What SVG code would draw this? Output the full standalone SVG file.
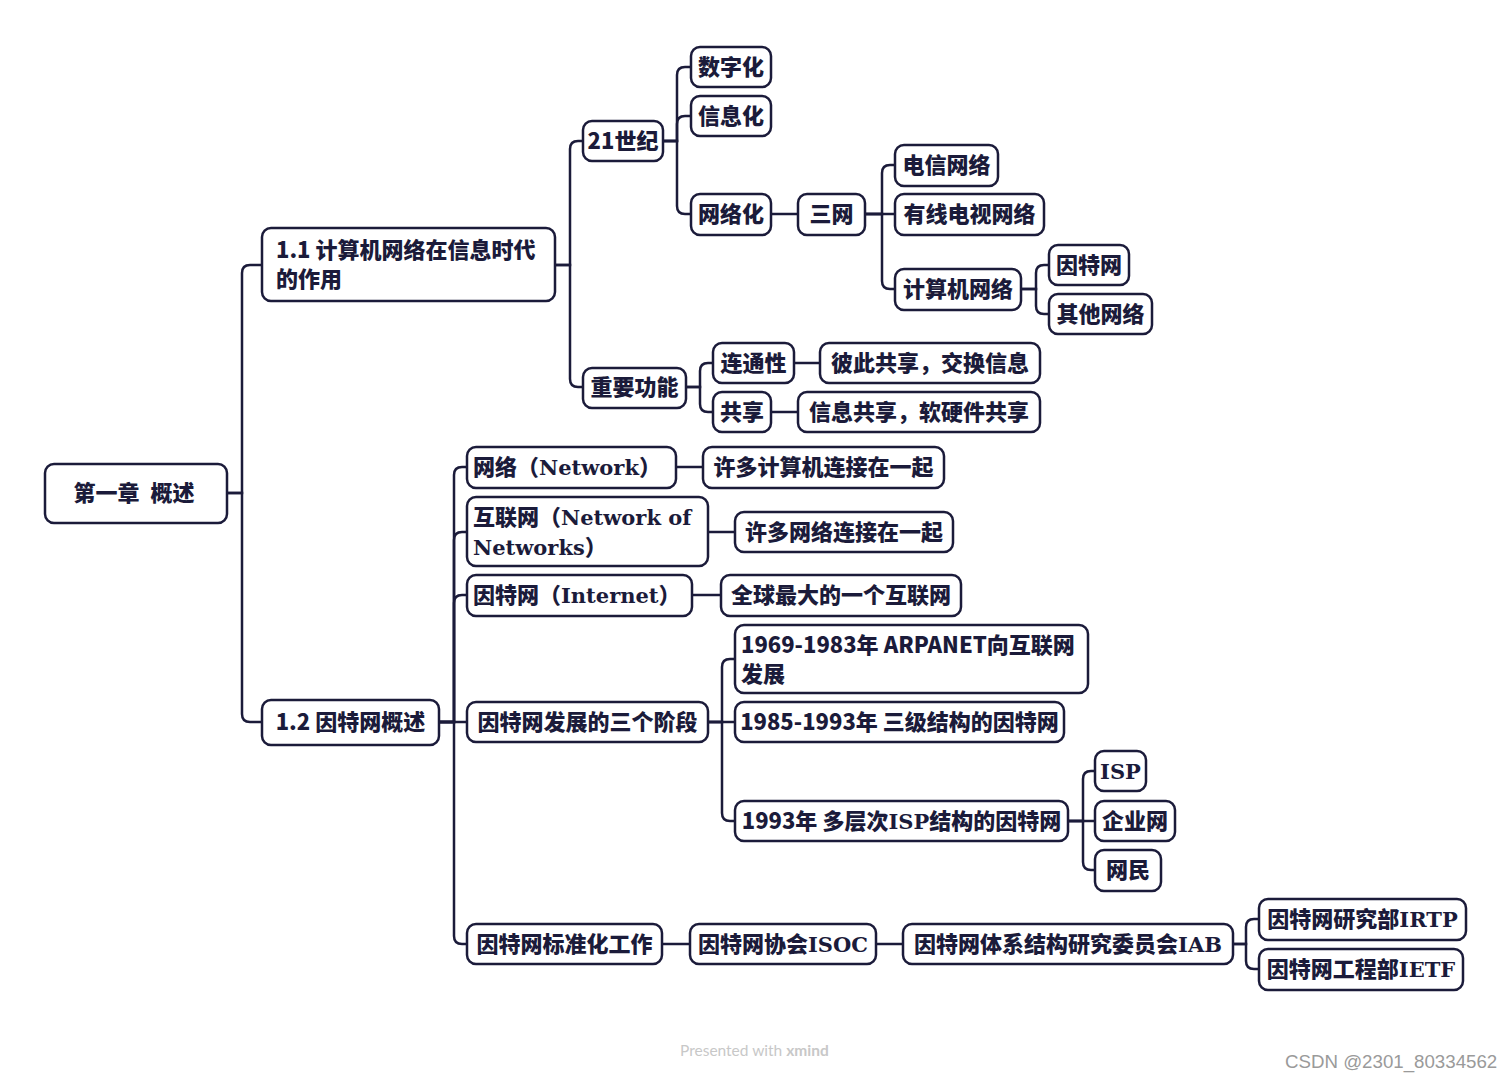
<svg xmlns="http://www.w3.org/2000/svg" width="1512" height="1080" viewBox="0 0 1512 1080">
<style>
.b{fill:#fff;stroke:#1b1b3a;stroke-width:2.5}
.t{font-family:"Noto Sans CJK SC","Liberation Sans",sans-serif;font-weight:900;font-size:22px;fill:#1b1b3a}
.m{text-anchor:middle}
.s{font-family:"DejaVu Serif","Liberation Serif",serif;font-weight:700;font-size:21px}
.c{fill:none;stroke:#1b1b3a;stroke-width:2.5}
</style>
<rect width="1512" height="1080" fill="#fff"/>
<g id="connectors" class="c">
<path d="M227,493 H242 V273 Q242,265 250,265 H262"/>
<path d="M227,493 H242 V714 Q242,722 250,722 H262"/>
<path d="M555,265 H570 V149 Q570,141 578,141 H583"/>
<path d="M555,265 H570 V379 Q570,387 578,387 H583"/>
<path d="M663,141 H677 V75 Q677,67 685,67 H691"/>
<path d="M663,141 H677 V124 Q677,116 685,116 H691"/>
<path d="M663,141 H677 V206 Q677,214 685,214 H691"/>
<path d="M771,214 H798"/>
<path d="M865,214 H882 V173 Q882,165 890,165 H895"/>
<path d="M865,214 H895"/>
<path d="M865,214 H882 V281 Q882,289 890,289 H895"/>
<path d="M1021,289 H1036 V273 Q1036,265 1044,265 H1049"/>
<path d="M1021,289 H1036 V306 Q1036,314 1044,314 H1049"/>
<path d="M686,387 H700 V371 Q700,363 708,363 H713"/>
<path d="M686,387 H700 V404 Q700,412 708,412 H713"/>
<path d="M794,363 H820"/>
<path d="M771,412 H798"/>
<path d="M439,722 H454 V475 Q454,467 462,467 H467"/>
<path d="M439,722 H454 V540 Q454,532 462,532 H467"/>
<path d="M439,722 H454 V603 Q454,595 462,595 H467"/>
<path d="M439,722 H467"/>
<path d="M439,722 H454 V936 Q454,944 462,944 H467"/>
<path d="M676,467 H703"/>
<path d="M708,532 H735"/>
<path d="M692,595 H721"/>
<path d="M708,722 H722 V667 Q722,659 730,659 H735"/>
<path d="M708,722 H735"/>
<path d="M708,722 H722 V813 Q722,821 730,821 H735"/>
<path d="M1068,821 H1083 V779 Q1083,771 1091,771 H1095"/>
<path d="M1068,821 H1095"/>
<path d="M1068,821 H1083 V862 Q1083,870 1091,870 H1095"/>
<path d="M662,944 H690"/>
<path d="M876,944 H903"/>
<path d="M1233,944 H1246 V927 Q1246,919 1254,919 H1259"/>
<path d="M1233,944 H1246 V961 Q1246,969 1254,969 H1259"/>
</g>
<g id="root"><rect class="b" x="45" y="464" width="182" height="59" rx="9"/><text class="t m" x="134" y="501" style="font-size:22px;word-spacing:6px">第一章 概述</text></g>
<g id="n11"><rect class="b" x="262" y="228" width="293" height="73" rx="9"/><text class="t" x="276" y="258">1.1 计算机网络在信息时代</text><text class="t" x="276" y="287">的作用</text></g>
<g id="n12"><rect class="b" x="262" y="700" width="177" height="45" rx="9"/><text class="t m" x="350.5" y="730">1.2 因特网概述</text></g>
<g id="n21c"><rect class="b" x="583" y="121" width="80" height="40" rx="9"/><text class="t m" x="623" y="149">21世纪</text></g>
<g id="nzy"><rect class="b" x="583" y="368" width="103" height="40" rx="9"/><text class="t m" x="634.5" y="395">重要功能</text></g>
<g id="nszh"><rect class="b" x="691" y="47" width="80" height="40" rx="9"/><text class="t m" x="731" y="75">数字化</text></g>
<g id="nxxh"><rect class="b" x="691" y="96" width="80" height="40" rx="9"/><text class="t m" x="731" y="124">信息化</text></g>
<g id="nwlh"><rect class="b" x="691" y="194" width="80" height="41" rx="9"/><text class="t m" x="731" y="222">网络化</text></g>
<g id="nsw"><rect class="b" x="798" y="194" width="67" height="41" rx="9"/><text class="t m" x="831.5" y="222">三网</text></g>
<g id="ndx"><rect class="b" x="895" y="145" width="103" height="41" rx="9"/><text class="t m" x="946.5" y="173">电信网络</text></g>
<g id="nyx"><rect class="b" x="895" y="194" width="149" height="41" rx="9"/><text class="t m" x="969.5" y="222">有线电视网络</text></g>
<g id="njsj"><rect class="b" x="895" y="269" width="126" height="41" rx="9"/><text class="t m" x="958" y="297">计算机网络</text></g>
<g id="nytw"><rect class="b" x="1049" y="245" width="80" height="40" rx="9"/><text class="t m" x="1089" y="273">因特网</text></g>
<g id="nqt"><rect class="b" x="1049" y="294" width="103" height="40" rx="9"/><text class="t m" x="1100.5" y="322">其他网络</text></g>
<g id="nlt"><rect class="b" x="713" y="343" width="81" height="40" rx="9"/><text class="t m" x="753.5" y="371">连通性</text></g>
<g id="ngx"><rect class="b" x="713" y="392" width="58" height="40" rx="9"/><text class="t m" x="742" y="420">共享</text></g>
<g id="nbc"><rect class="b" x="820" y="343" width="220" height="40" rx="9"/><text class="t m" x="930" y="371">彼此共享，交换信息</text></g>
<g id="nxxgx"><rect class="b" x="798" y="392" width="242" height="40" rx="9"/><text class="t m" x="919" y="420">信息共享，软硬件共享</text></g>
<g id="nnet"><rect class="b" x="467" y="447" width="209" height="41" rx="9"/><text class="t" x="473" y="475">网络（<tspan class="s">Network</tspan>）</text></g>
<g id="nnetd"><rect class="b" x="703" y="447" width="241" height="41" rx="9"/><text class="t m" x="823.5" y="475">许多计算机连接在一起</text></g>
<g id="nhlw"><rect class="b" x="467" y="497" width="241" height="69" rx="9"/><text class="t" x="473" y="525">互联网（<tspan class="s">Network of</tspan></text><text class="t" x="473" y="555"><tspan class="s">Networks</tspan>）</text></g>
<g id="nhlwd"><rect class="b" x="735" y="512" width="218" height="40" rx="9"/><text class="t m" x="844" y="540">许多网络连接在一起</text></g>
<g id="ninet"><rect class="b" x="467" y="575" width="225" height="41" rx="9"/><text class="t" x="473" y="603">因特网（<tspan class="s">Internet</tspan>）</text></g>
<g id="ninetd"><rect class="b" x="721" y="575" width="240" height="41" rx="9"/><text class="t m" x="841" y="603">全球最大的一个互联网</text></g>
<g id="n3jd"><rect class="b" x="467" y="702" width="241" height="40" rx="9"/><text class="t m" x="587.5" y="730">因特网发展的三个阶段</text></g>
<g id="n1969"><rect class="b" x="735" y="625" width="353" height="68" rx="9"/><text class="t" x="741" y="653">1969-1983年 ARPANET向互联网</text><text class="t" x="741" y="682">发展</text></g>
<g id="n1985"><rect class="b" x="735" y="702" width="329" height="40" rx="9"/><text class="t m" x="899.5" y="730">1985-1993年 三级结构的因特网</text></g>
<g id="n1993"><rect class="b" x="735" y="801" width="333" height="40" rx="9"/><text class="t m" x="901.5" y="829">1993年 多层次<tspan class="s">ISP</tspan>结构的因特网</text></g>
<g id="nisp"><rect class="b" x="1095" y="751" width="51" height="40" rx="9"/><text class="t m s" x="1120.5" y="779">ISP</text></g>
<g id="nqyw"><rect class="b" x="1095" y="801" width="80" height="40" rx="9"/><text class="t m" x="1135" y="829">企业网</text></g>
<g id="nwm"><rect class="b" x="1095" y="850" width="66" height="41" rx="9"/><text class="t m" x="1128" y="878">网民</text></g>
<g id="nbzh"><rect class="b" x="467" y="924" width="195" height="40" rx="9"/><text class="t m" x="564.5" y="952">因特网标准化工作</text></g>
<g id="nisoc"><rect class="b" x="690" y="924" width="186" height="40" rx="9"/><text class="t m" x="783" y="952">因特网协会<tspan class="s">ISOC</tspan></text></g>
<g id="niab"><rect class="b" x="903" y="924" width="330" height="40" rx="9"/><text class="t m" x="1068" y="952">因特网体系结构研究委员会<tspan class="s">IAB</tspan></text></g>
<g id="nirtp"><rect class="b" x="1259" y="899" width="207" height="41" rx="9"/><text class="t m" x="1362.5" y="927">因特网研究部<tspan class="s">IRTP</tspan></text></g>
<g id="nietf"><rect class="b" x="1259" y="949" width="204" height="41" rx="9"/><text class="t m" x="1361" y="977">因特网工程部<tspan class="s">IETF</tspan></text></g>
<text x="680" y="1056" style="font-family:Lato,'Liberation Sans',sans-serif;font-size:15.5px;fill:#c8c8c8">Presented with <tspan style="font-weight:700">xmind</tspan></text>
<text x="1285" y="1068" style="font-family:'Liberation Sans',sans-serif;font-size:18.7px;fill:#9a9a9a">CSDN @2301_80334562</text>
</svg>
